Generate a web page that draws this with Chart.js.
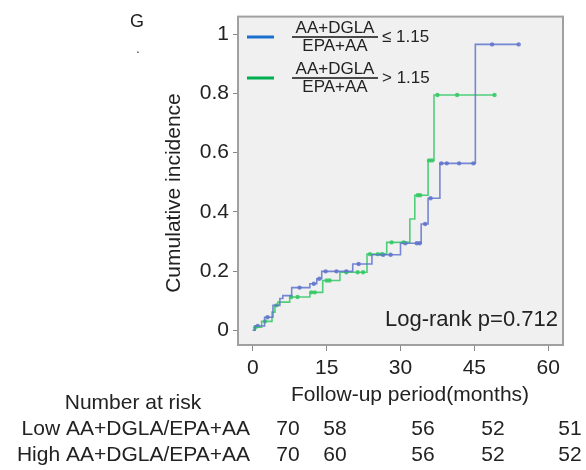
<!DOCTYPE html>
<html>
<head>
<meta charset="utf-8">
<script src="https://cdn.jsdelivr.net/npm/chart.js@4/dist/chart.umd.min.js"></script>
<style>
  html, body { margin: 0; padding: 0; background: #fff; }
  #wrap { width: 586px; height: 470px; }
</style>
</head>
<body>
<div id="wrap"><canvas id="chart-km" width="586" height="470"></canvas></div>
<script>
/* Cumulative incidence (KM style) by AA+DGLA / EPA+AA ratio */

const xTicks = [0, 15, 30, 45, 60];
const yTicks = [0, 0.2, 0.4, 0.6, 0.8, 1];
const yTickLabels = ['0', '0.2', '0.4', '0.6', '0.8', '1'];

// low ratio group (blue): event times and cumulative incidence after each step
const lowTimes = [0, 0.5, 2.4, 4.1, 5.5, 6.1, 7.9, 11.6, 13.0, 14.0, 20.3, 24.2, 30.0, 34.2, 35.6, 38.0, 45.2, 54.0];
const lowCum = [0, 0.014, 0.044, 0.084, 0.107, 0.117, 0.144, 0.157, 0.174, 0.199, 0.224, 0.255, 0.294, 0.359, 0.446, 0.564, 0.966, 0.966];
const lowCensor = [1.0, 3.0, 9.5, 12.4, 13.5, 14.8, 17.0, 19.0, 21.5, 26.5, 28.0, 31.0, 33.3, 33.9, 35.0, 36.1, 38.3, 39.4, 41.9, 44.8, 48.6, 54.0];

// high ratio group (green)
const highTimes = [0, 0.3, 1.8, 3.9, 4.5, 5.1, 7.5, 11.6, 14.2, 17.7, 23.2, 27.2, 31.9, 32.9, 35.6, 36.8, 49.1];
const highCum = [0, 0.01, 0.03, 0.061, 0.084, 0.095, 0.112, 0.128, 0.168, 0.196, 0.257, 0.297, 0.376, 0.456, 0.574, 0.795, 0.795];
const highCensor = [0.5, 2.5, 4.8, 7.8, 9.1, 11.9, 12.6, 15.0, 15.6, 19.0, 21.3, 22.4, 23.8, 25.4, 26.2, 28.2, 30.6, 33.5, 34.0, 35.8, 36.4, 37.5, 41.5, 49.1];

// number at risk table
const riskRows = ['Low AA+DGLA/EPA+AA', 'High AA+DGLA/EPA+AA'];
const riskLow = [70, 58, 56, 52, 51];
const riskHigh = [70, 60, 56, 52, 52];
const riskX = [288, 335, 423, 493, 570];

const FONT = '"Liberation Sans", Arial, sans-serif';
const TXT = '#222';
const BLUE = 'rgba(95,115,205,0.85)';
const GREEN = 'rgba(50,200,100,0.85)';

function stepAt(times, cum, t) {
  let v = 0;
  for (let i = 0; i < times.length; i++) if (times[i] <= t) v = cum[i];
  return v;
}

const toXY = (times, cum) => times.map((t, i) => ({ x: t, y: cum[i] }));
const censorXY = (cens, times, cum) => cens.map((t) => ({ x: t, y: stepAt(times, cum, t) }));

const plotFrame = {
  id: 'plotFrame',
  beforeDatasetsDraw(chart) {
    const { ctx, chartArea: a } = chart;
    ctx.save();
    ctx.fillStyle = '#f0f0f0';
    ctx.fillRect(a.left, a.top, a.right - a.left, a.bottom - a.top);
    ctx.restore();
  },
  afterDatasetsDraw(chart) {
    const { ctx, chartArea: a } = chart;
    ctx.save();
    ctx.strokeStyle = '#a0a0a0';
    ctx.lineWidth = 2;
    ctx.strokeRect(a.left, a.top, a.right - a.left, a.bottom - a.top);
    ctx.restore();
  },
};

function fraction(ctx, cx, cy, tail) {
  ctx.font = '17px ' + FONT;
  ctx.textAlign = 'center';
  ctx.textBaseline = 'middle';
  ctx.fillText('AA+DGLA', cx, cy - 9);
  ctx.fillText('EPA+AA', cx, cy + 9);
  ctx.fillRect(cx - 43, cy - 0.8, 86, 1.6);
  ctx.textAlign = 'left';
  ctx.fillText(tail, cx + 47, cy);
}

const annotations = {
  id: 'annotations',
  afterDraw(chart) {
    const ctx = chart.ctx;
    ctx.save();
    ctx.fillStyle = TXT;

    ctx.font = '18px ' + FONT;
    ctx.textAlign = 'center';
    ctx.textBaseline = 'middle';
    ctx.fillText('G', 137, 22);
    ctx.font = '12px ' + FONT;
    ctx.fillText('.', 138, 50);

    // y title
    ctx.save();
    ctx.translate(174, 193);
    ctx.rotate(-Math.PI / 2);
    ctx.font = '21px ' + FONT;
    ctx.fillText('Cumulative incidence', 0, 0);
    ctx.restore();

    // x title
    ctx.font = '21px ' + FONT;
    ctx.fillText('Follow-up period(months)', 410, 395);

    // legend
    ctx.fillStyle = '#1a6fcf';
    ctx.fillRect(247, 35.5, 27, 3);
    ctx.fillStyle = '#00b050';
    ctx.fillRect(247, 76.5, 27, 3);
    ctx.fillStyle = TXT;
    fraction(ctx, 335, 37, '\u2264 1.15');
    fraction(ctx, 335, 78, '> 1.15');

    // log-rank
    ctx.font = '22px ' + FONT;
    ctx.textAlign = 'right';
    ctx.fillText('Log-rank p=0.712', 558, 320);

    // number at risk
    ctx.font = '21px ' + FONT;
    ctx.textAlign = 'center';
    ctx.fillText('Number at risk', 133, 403);
    ctx.textAlign = 'right';
    ctx.fillText(riskRows[0], 250, 429);
    ctx.fillText(riskRows[1], 250, 455);
    ctx.textAlign = 'center';
    riskLow.forEach((n, i) => ctx.fillText(String(n), riskX[i], 429));
    riskHigh.forEach((n, i) => ctx.fillText(String(n), riskX[i], 455));
    ctx.restore();
  },
};

new Chart(document.getElementById('chart-km'), {
  type: 'line',
  data: {
    datasets: [
      {
        label: 'low',
        data: toXY(lowTimes, lowCum),
        borderColor: BLUE,
        borderWidth: 1.6,
        stepped: true,
        pointRadius: 0,
        fill: false,
      },
      {
        label: 'high',
        data: toXY(highTimes, highCum),
        borderColor: GREEN,
        borderWidth: 1.6,
        stepped: true,
        pointRadius: 0,
        fill: false,
      },
      {
        label: 'low censor',
        data: censorXY(lowCensor, lowTimes, lowCum),
        showLine: false,
        pointRadius: 2.2,
        pointBackgroundColor: BLUE,
        pointBorderWidth: 0,
      },
      {
        label: 'high censor',
        data: censorXY(highCensor, highTimes, highCum),
        showLine: false,
        pointRadius: 2.2,
        pointBackgroundColor: GREEN,
        pointBorderWidth: 0,
      },
    ],
  },
  options: {
    responsive: false,
    animation: false,
    layout: { padding: { left: 0, top: 14, right: 23, bottom: 0 } },
    plugins: { legend: { display: false }, tooltip: { enabled: false } },
    scales: {
      x: {
        type: 'linear',
        min: -3,
        max: 63,
        afterFit: (s) => { s.height = 125; },
        afterBuildTicks: (s) => { s.ticks = xTicks.map((v) => ({ value: v })); },
        border: { display: false },
        grid: { drawOnChartArea: false, tickLength: 6, color: '#888' },
        ticks: { color: TXT, font: { family: FONT, size: 21 }, padding: 5, maxRotation: 0 },
      },
      y: {
        min: -0.05,
        max: 1.06,
        afterFit: (s) => { s.width = 238; },
        afterBuildTicks: (s) => { s.ticks = yTicks.map((v) => ({ value: v })); },
        border: { display: false },
        grid: { drawOnChartArea: false, tickLength: 5, color: '#888' },
        ticks: {
          color: TXT,
          font: { family: FONT, size: 21 },
          padding: 4,
          callback: (v, i) => yTickLabels[i],
        },
      },
    },
  },
  plugins: [plotFrame, annotations],
});
</script>
</body>
</html>
